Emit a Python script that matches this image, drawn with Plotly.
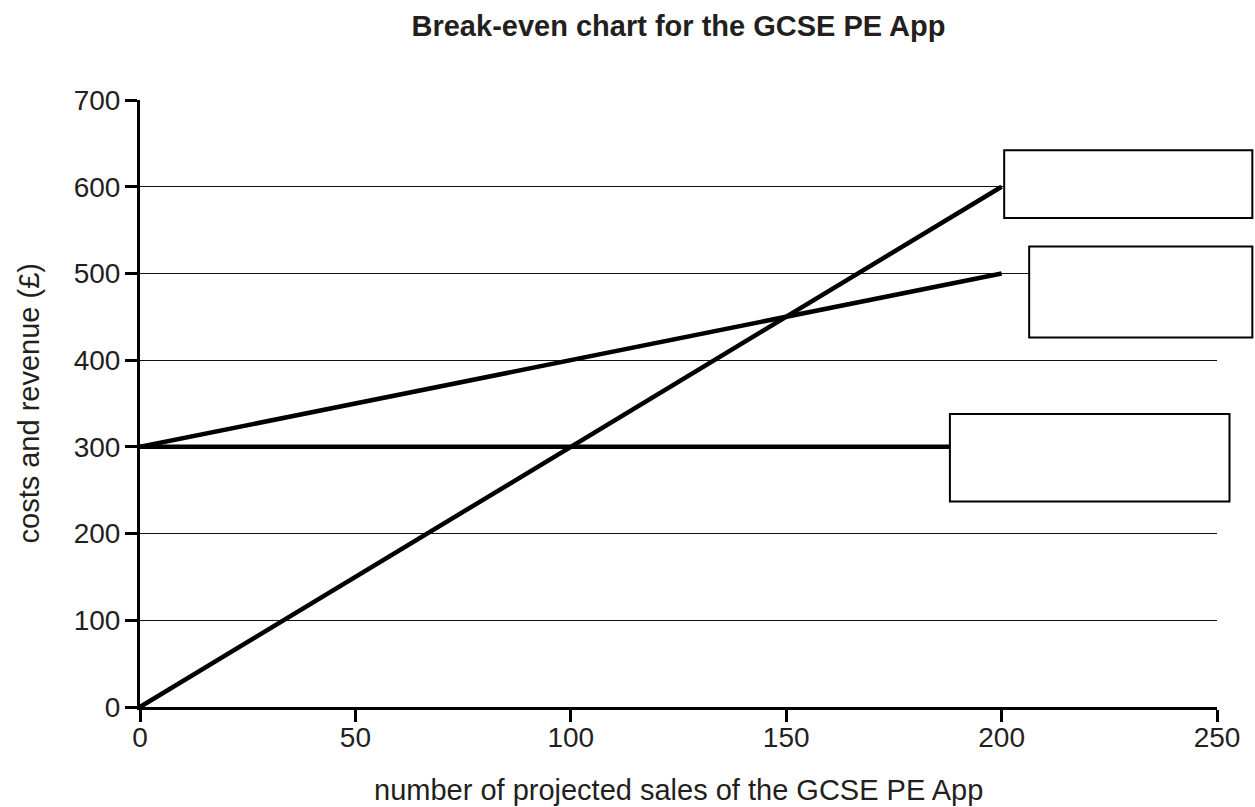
import plotly.graph_objects as go

# Data
sales = [0, 200]
revenue = [0, 600]
total_costs = [300, 500]
fixed_costs = [300, 300]

x_ticks = [0, 50, 100, 150, 200, 250]
y_ticks = [0, 100, 200, 300, 400, 500, 600, 700]

X_RANGE = [0, 250]
Y_RANGE = [0, 700]

# Empty label boxes (data units: x0, x1, y0, y1)
boxes = [
    (200.6, 258.2, 564, 642),
    (206.4, 258.2, 426, 531),
    (188.0, 252.9, 237, 338),
]

FONT = "Liberation Sans, Arial, sans-serif"
INK = "#231f20"

fig = go.Figure()
line_style = dict(color="black", width=4.5)
fig.add_trace(go.Scatter(x=sales, y=revenue, mode="lines", line=line_style, hoverinfo="skip"))
fig.add_trace(go.Scatter(x=sales, y=total_costs, mode="lines", line=line_style, hoverinfo="skip"))
fig.add_trace(go.Scatter(x=sales, y=fixed_costs, mode="lines", line=line_style, hoverinfo="skip"))

def px_x(v):
    return (v - X_RANGE[0]) / (X_RANGE[1] - X_RANGE[0])

def px_y(v):
    return (v - Y_RANGE[0]) / (Y_RANGE[1] - Y_RANGE[0])

for x0, x1, y0, y1 in boxes:
    fig.add_shape(type="rect", xref="paper", yref="paper",
                  x0=px_x(x0), x1=px_x(x1), y0=px_y(y0), y1=px_y(y1),
                  line=dict(color="black", width=2), fillcolor="white", layer="above")

fig.update_layout(
    width=1255, height=807,
    margin=dict(l=140, r=38, t=100, b=100),
    paper_bgcolor="white", plot_bgcolor="white",
    showlegend=False,
    font=dict(family=FONT, size=28, color=INK),
    title=dict(text="<b>Break-even chart for the GCSE PE App</b>",
               x=0.5, xref="paper", xanchor="center",
               y=1 - 26 / 807, yanchor="middle", yref="container",
               font=dict(family=FONT, size=29, color=INK)),
    xaxis=dict(range=X_RANGE, tickvals=x_ticks, showgrid=False, zeroline=False,
               showline=True, linecolor="black", linewidth=3,
               ticks="outside", ticklen=12, tickwidth=2.5, tickcolor="black",
               ticklabelstandoff=-9,
               tickfont=dict(size=28, color=INK), fixedrange=True),
    yaxis=dict(range=Y_RANGE, tickvals=y_ticks, showgrid=True, gridcolor="#111", gridwidth=1,
               zeroline=False, showline=True, linecolor="black", linewidth=3,
               ticks="outside", ticklen=12, tickwidth=2.5, tickcolor="black",
               ticklabelstandoff=-1,
               tickfont=dict(size=28, color=INK), fixedrange=True),
    annotations=[
        dict(text="number of projected sales of the GCSE PE App", xref="paper", yref="paper",
             x=0.5, y=(707 - 790) / 607, xanchor="center", yanchor="middle", showarrow=False,
             font=dict(family=FONT, size=29, color=INK)),
        dict(text="costs and revenue (£)", xref="paper", yref="paper",
             x=(28 - 140) / 1077, y=0.5, xanchor="center", yanchor="middle", textangle=-90,
             showarrow=False, font=dict(family=FONT, size=29, color=INK)),
    ],
)

fig.write_html("out.html", config={"displayModeBar": False},
               post_script="document.body.style.margin='0';document.body.style.overflow='hidden';")
